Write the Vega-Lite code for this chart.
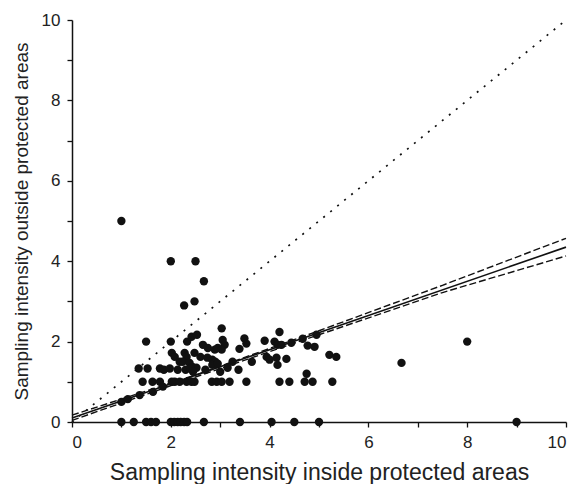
{
  "$schema": "https://vega.github.io/schema/vega-lite/v6.json",
  "width": 494,
  "height": 402,
  "autosize": "none",
  "padding": {"left": 72, "top": 20, "right": 7, "bottom": 62},
  "background": "white",
  "config": {
    "view": {"stroke": null},
    "axis": {
      "grid": false,
      "domainColor": "#111",
      "domainWidth": 1.5,
      "tickColor": "#111",
      "tickWidth": 1.3,
      "tickSize": 5,
      "labelFont": "Liberation Sans",
      "titleFont": "Liberation Sans",
      "labelColor": "#222",
      "titleColor": "#222",
      "labelFontSize": 17,
      "titleFontWeight": "normal"
    }
  },
  "datasets": {
    "pts": [
      {"x": 1.0, "y": 0}, {"x": 1.25, "y": 0}, {"x": 1.5, "y": 0}, {"x": 1.6, "y": 0}, {"x": 1.7, "y": 0},
      {"x": 2.0, "y": 0}, {"x": 2.07, "y": 0}, {"x": 2.14, "y": 0}, {"x": 2.2, "y": 0}, {"x": 2.27, "y": 0},
      {"x": 2.33, "y": 0}, {"x": 2.67, "y": 0}, {"x": 3.4, "y": 0}, {"x": 4.04, "y": 0}, {"x": 4.5, "y": 0},
      {"x": 5.0, "y": 0}, {"x": 9.0, "y": 0},
      {"x": 1.0, "y": 5.0}, {"x": 2.0, "y": 4.0}, {"x": 2.5, "y": 4.0}, {"x": 2.67, "y": 3.5},
      {"x": 2.27, "y": 2.9}, {"x": 2.48, "y": 3.0}, {"x": 3.03, "y": 2.33}, {"x": 8.0, "y": 2.0}, {"x": 6.67, "y": 1.47},
      {"x": 1.5, "y": 2.0}, {"x": 2.0, "y": 2.0}, {"x": 2.33, "y": 2.0}, {"x": 2.42, "y": 2.12}, {"x": 2.53, "y": 2.17},
      {"x": 3.05, "y": 2.04}, {"x": 3.09, "y": 1.92}, {"x": 3.49, "y": 2.08}, {"x": 3.53, "y": 1.95}, {"x": 3.9, "y": 2.02},
      {"x": 4.1, "y": 2.0}, {"x": 4.16, "y": 1.92}, {"x": 4.2, "y": 2.24}, {"x": 4.24, "y": 1.92}, {"x": 4.44, "y": 1.97},
      {"x": 4.67, "y": 2.07}, {"x": 4.95, "y": 2.17}, {"x": 4.77, "y": 1.9}, {"x": 4.91, "y": 1.87},
      {"x": 2.65, "y": 1.92}, {"x": 2.75, "y": 1.84}, {"x": 2.89, "y": 1.8}, {"x": 2.95, "y": 1.84}, {"x": 3.03, "y": 1.8},
      {"x": 3.39, "y": 1.82},
      {"x": 2.02, "y": 1.72}, {"x": 2.08, "y": 1.62}, {"x": 2.28, "y": 1.72}, {"x": 2.32, "y": 1.62}, {"x": 2.48, "y": 1.72},
      {"x": 2.6, "y": 1.62}, {"x": 2.74, "y": 1.6}, {"x": 2.84, "y": 1.55}, {"x": 2.9, "y": 1.5}, {"x": 2.84, "y": 1.42},
      {"x": 5.21, "y": 1.67}, {"x": 5.35, "y": 1.62}, {"x": 4.34, "y": 1.57}, {"x": 3.94, "y": 1.62}, {"x": 4.0, "y": 1.55},
      {"x": 4.14, "y": 1.6}, {"x": 4.16, "y": 1.42},
      {"x": 3.25, "y": 1.5}, {"x": 3.64, "y": 1.5}, {"x": 2.18, "y": 1.5}, {"x": 2.24, "y": 1.5}, {"x": 2.38, "y": 1.47},
      {"x": 2.44, "y": 1.37}, {"x": 2.52, "y": 1.35},
      {"x": 1.35, "y": 1.33}, {"x": 1.53, "y": 1.33}, {"x": 1.78, "y": 1.33}, {"x": 1.86, "y": 1.3}, {"x": 1.98, "y": 1.33},
      {"x": 2.14, "y": 1.3}, {"x": 2.3, "y": 1.3}, {"x": 2.4, "y": 1.33}, {"x": 2.45, "y": 1.25}, {"x": 2.7, "y": 1.3},
      {"x": 2.95, "y": 1.45}, {"x": 3.0, "y": 1.25}, {"x": 3.15, "y": 1.35}, {"x": 3.37, "y": 1.3}, {"x": 4.75, "y": 1.2},
      {"x": 1.43, "y": 1.0}, {"x": 1.63, "y": 1.0}, {"x": 1.78, "y": 1.0}, {"x": 2.02, "y": 1.0}, {"x": 2.08, "y": 1.0},
      {"x": 2.18, "y": 1.0}, {"x": 2.32, "y": 1.0}, {"x": 2.42, "y": 1.0}, {"x": 2.48, "y": 1.0}, {"x": 2.83, "y": 1.0},
      {"x": 2.93, "y": 1.0}, {"x": 3.03, "y": 1.0}, {"x": 3.19, "y": 1.0}, {"x": 3.53, "y": 1.0}, {"x": 4.2, "y": 1.0},
      {"x": 4.4, "y": 1.0}, {"x": 4.71, "y": 1.0}, {"x": 4.87, "y": 1.0}, {"x": 5.27, "y": 1.0},
      {"x": 1.0, "y": 0.5}, {"x": 1.13, "y": 0.57}, {"x": 1.37, "y": 0.67}, {"x": 1.64, "y": 0.75}, {"x": 1.84, "y": 0.88}
    ],
    "lines": [
      {"series": "fit", "x": 0, "y": 0.1}, {"series": "fit", "x": 10, "y": 4.35},
      {"series": "upper", "x": 0, "y": 0.17}, {"series": "upper", "x": 2.5, "y": 1.17}, {"series": "upper", "x": 5, "y": 2.27}, {"series": "upper", "x": 7.5, "y": 3.4}, {"series": "upper", "x": 10, "y": 4.57},
      {"series": "lower", "x": 0, "y": 0.04}, {"series": "lower", "x": 2.5, "y": 1.12}, {"series": "lower", "x": 5, "y": 2.17}, {"series": "lower", "x": 7.5, "y": 3.22}, {"series": "lower", "x": 10, "y": 4.13},
      {"series": "identity", "x": 0, "y": 0}, {"series": "identity", "x": 10, "y": 10}
    ]
  },
  "encoding": {
    "x": {
      "field": "x", "type": "quantitative",
      "scale": {"domain": [0, 10], "nice": false, "zero": true},
      "axis": {
        "title": "Sampling intensity inside protected areas",
        "titleFontSize": 23, "titlePadding": 11,
        "values": [0, 1, 2, 3, 4, 5, 6, 7, 8, 9, 10],
        "labelExpr": "datum.value % 2 === 0 ? datum.label : ''",
        "labelPadding": 7
      }
    },
    "y": {
      "field": "y", "type": "quantitative",
      "scale": {"domain": [0, 10], "nice": false},
      "axis": {
        "title": "Sampling intensity outside protected areas",
        "titleFontSize": 19, "titlePadding": 10,
        "values": [0, 1, 2, 3, 4, 5, 6, 7, 8, 9, 10],
        "labelExpr": "datum.value % 2 === 0 ? datum.label : ''",
        "labelPadding": 7
      }
    }
  },
  "layer": [
    {
      "data": {"name": "lines"},
      "transform": [{"filter": "datum.series === 'identity'"}],
      "mark": {"type": "line", "color": "#111", "strokeWidth": 1.7, "strokeDash": [2, 7]},
      "encoding": {"detail": {"field": "series"}}
    },
    {
      "data": {"name": "lines"},
      "transform": [{"filter": "datum.series === 'upper' || datum.series === 'lower'"}],
      "mark": {"type": "line", "color": "#111", "strokeWidth": 1.4, "strokeDash": [7, 3]},
      "encoding": {"detail": {"field": "series"}}
    },
    {
      "data": {"name": "lines"},
      "transform": [{"filter": "datum.series === 'fit'"}],
      "mark": {"type": "line", "color": "#111", "strokeWidth": 1.6},
      "encoding": {}
    },
    {
      "data": {"name": "pts"},
      "mark": {"type": "circle", "color": "#111", "opacity": 1, "size": 70, "clip": false},
      "encoding": {}
    }
  ]
}
